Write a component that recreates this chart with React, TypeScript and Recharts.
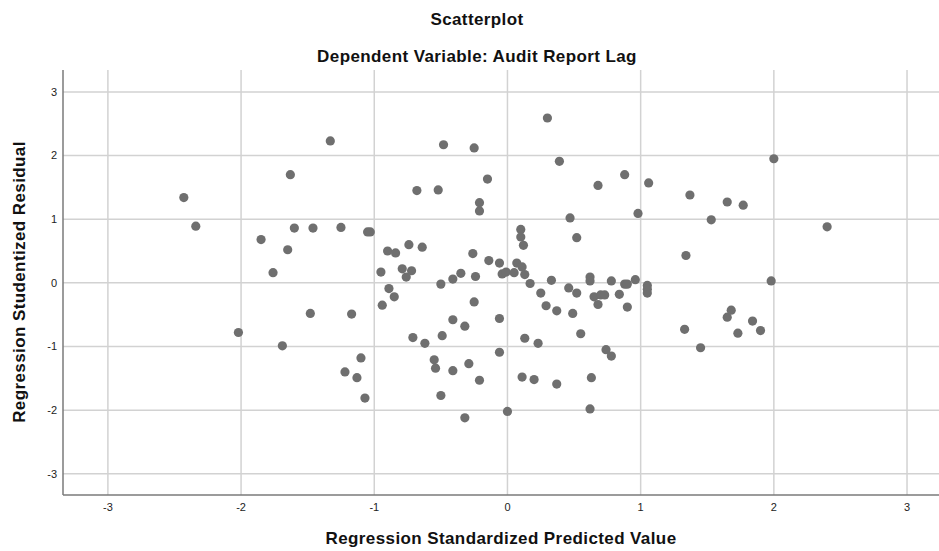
import React from 'react';
import { ScatterChart, Scatter, XAxis, YAxis, CartesianGrid } from 'recharts';

// predicted value (x) and studentized residual (y)
const predicted = [
  -2.43, -2.34, -2.02, -1.85, -1.76, -1.69, -1.65, -1.63, -1.60, -1.48,
  -1.46, -1.33, -1.25, -1.22, -1.17, -1.13, -1.10, -1.07, -1.05, -1.03,
  -0.95, -0.94, -0.90, -0.89, -0.84, -0.85, -0.79, -0.76, -0.74, -0.72,
  -0.71, -0.68, -0.64, -0.62, -0.55, -0.54, -0.52, -0.50, -0.50, -0.49,
  -0.48, -0.41, -0.41, -0.41, -0.35, -0.32, -0.32, -0.29, -0.26, -0.25,
  -0.24, -0.25, -0.21, -0.21, -0.21, -0.15, -0.14, -0.06, -0.06, -0.06,
  -0.04, -0.01, 0.00, 0.05, 0.07, 0.10, 0.10, 0.11, 0.12, 0.13,
  0.11, 0.13, 0.17, 0.20, 0.23, 0.25, 0.29, 0.30, 0.33, 0.37,
  0.37, 0.39, 0.46, 0.47, 0.49, 0.52, 0.52, 0.55, 0.62, 0.62,
  0.62, 0.63, 0.65, 0.68, 0.68, 0.70, 0.73, 0.74, 0.78, 0.78,
  0.84, 0.88, 0.88, 0.90, 0.90, 0.96, 0.98, 1.05, 1.05, 1.05,
  1.06, 1.33, 1.34, 1.37, 1.45, 1.53, 1.65, 1.65, 1.68, 1.73,
  1.77, 1.84, 1.90, 1.98, 2.00, 2.40,
];
const residual = [
  1.34, 0.89, -0.78, 0.68, 0.16, -0.99, 0.52, 1.70, 0.86, -0.48,
  0.86, 2.23, 0.87, -1.40, -0.49, -1.49, -1.18, -1.81, 0.80, 0.80,
  0.17, -0.35, 0.50, -0.09, 0.47, -0.22, 0.22, 0.09, 0.60, 0.19,
  -0.86, 1.45, 0.56, -0.95, -1.21, -1.34, 1.46, -0.02, -1.77, -0.83,
  2.17, 0.06, -0.58, -1.38, 0.15, -0.68, -2.12, -1.27, 0.46, 2.12,
  0.10, -0.30, 1.26, 1.13, -1.53, 1.63, 0.35, 0.31, -0.56, -1.09,
  0.14, 0.17, -2.02, 0.16, 0.31, 0.84, 0.72, 0.25, 0.59, 0.13,
  -1.48, -0.87, -0.01, -1.52, -0.95, -0.16, -0.36, 2.59, 0.04, -0.44,
  -1.59, 1.91, -0.08, 1.02, -0.48, 0.71, -0.16, -0.80, 0.09, 0.03,
  -1.98, -1.49, -0.22, -0.34, 1.53, -0.19, -0.19, -1.05, 0.03, -1.15,
  -0.18, 1.70, -0.02, -0.02, -0.38, 0.05, 1.09, -0.04, -0.10, -0.16,
  1.57, -0.73, 0.43, 1.38, -1.02, 0.99, 1.27, -0.54, -0.43, -0.79,
  1.22, -0.60, -0.75, 0.03, 1.95, 0.88,
];
const xTicks = [-3, -2, -1, 0, 1, 2, 3];
const yTicks = [-3, -2, -1, 0, 1, 2, 3];

const points = predicted.map((x, i) => ({ x, y: residual[i] }));

const font = 'Arial, "Liberation Sans", sans-serif';
const titleStyle: React.CSSProperties = {
  position: 'absolute', textAlign: 'center', fontSize: 17, letterSpacing: 0.4,
  fontWeight: 'bold', color: '#111', whiteSpace: 'nowrap',
};

const Dot = (props: any) => (
  <circle cx={props.cx} cy={props.cy} r={4.6} fill="#6f6f6f" />
);

export default function App() {
  return (
    <div style={{ position: 'relative', width: 939, height: 551, background: '#fff', fontFamily: font }}>
      <style>{`body{margin:0}`}</style>
      <div style={{ ...titleStyle, left: 0, width: 954, top: 10 }}>Scatterplot</div>
      <div style={{ ...titleStyle, left: 0, width: 954, top: 47 }}>Dependent Variable: Audit Report Lag</div>
      <ScatterChart width={939} height={551} margin={{ top: 70, right: 0, bottom: 0, left: 0 }}>
        <CartesianGrid stroke="#d2d2d2" strokeWidth={1.5} horizontalValues={yTicks} verticalValues={xTicks} />
        <XAxis
          type="number"
          dataKey="x"
          domain={[-3.337, 3.24]}
          ticks={xTicks}
          allowDataOverflow
          height={56}
          tickLine={false}
          axisLine={{ stroke: '#7a7a7a', strokeWidth: 1.5 }}
          tick={{ fontSize: 11, fill: '#222', fontFamily: font }}
        />
        <YAxis
          type="number"
          dataKey="y"
          domain={[-3.333, 3.344]}
          ticks={yTicks}
          allowDataOverflow
          width={63}
          tickLine={false}
          tickSize={4}
          axisLine={{ stroke: '#7a7a7a', strokeWidth: 1.5 }}
          tick={{ fontSize: 11, fill: '#222', fontFamily: font }}
        />
        <Scatter data={points} shape={<Dot />} isAnimationActive={false} />
      </ScatterChart>
      <div style={{ ...titleStyle, left: 63, width: 876, top: 529 }}>Regression Standardized Predicted Value</div>
      <div style={{ position: 'absolute', left: 20, top: 282, width: 0, height: 0 }}>
        <div style={{ ...titleStyle, transform: 'translate(-50%, -50%) rotate(-90deg)' }}>
          Regression Studentized Residual
        </div>
      </div>
    </div>
  );
}
